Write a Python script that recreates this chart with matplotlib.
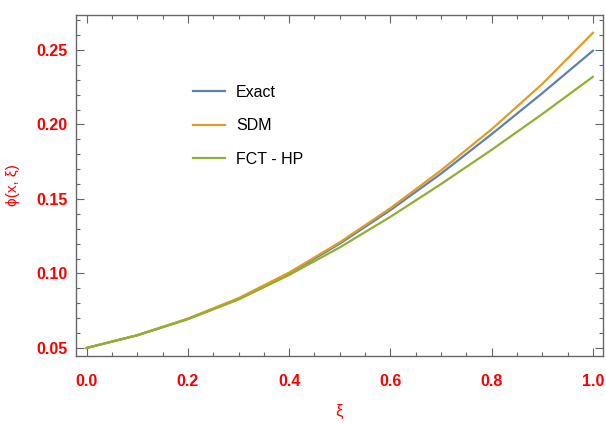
import matplotlib
matplotlib.use('Agg')
import matplotlib.pyplot as plt
from matplotlib.ticker import MultipleLocator

# values, xi step 0.1
xi = [0.0, 0.1, 0.2, 0.3, 0.4, 0.5, 0.6, 0.7, 0.8, 0.9, 1.0]
exact = [0.0500, 0.0585, 0.0695, 0.0830, 0.1000, 0.1200, 0.1425, 0.1670, 0.1935, 0.2210, 0.2495]
sdm = [0.0500, 0.0586, 0.0697, 0.0834, 0.1006, 0.1209, 0.1438, 0.1692, 0.1968, 0.2272, 0.2615]
fct_hp = [0.0500, 0.0585, 0.0693, 0.0825, 0.0990, 0.1175, 0.1380, 0.1600, 0.1830, 0.2070, 0.2320]
series_names = ['Exact', 'SDM', 'FCT - HP']

plt.rcParams['font.family'] = ['Liberation Sans', 'DejaVu Sans']

fig = plt.figure(figsize=(6.06, 4.24), dpi=100)
ax = fig.add_axes([76 / 606, 68 / 424, 527 / 606, 341 / 424])

colors = ['#5E81B5', '#E19C24', '#8FB032']
for ys, name, c in zip([exact, sdm, fct_hp], series_names, colors):
    ax.plot(xi, ys, color=c, lw=1.6, label=name)

ax.set_xlim(-0.021, 1.020)
ax.set_ylim(0.0446, 0.2735)

ax.xaxis.set_major_locator(MultipleLocator(0.2))
ax.xaxis.set_minor_locator(MultipleLocator(0.05))
ax.yaxis.set_major_locator(MultipleLocator(0.05))
ax.yaxis.set_minor_locator(MultipleLocator(0.01))
ax.xaxis.set_major_formatter(plt.FormatStrFormatter('%.1f'))
ax.yaxis.set_major_formatter(plt.FormatStrFormatter('%.2f'))

frame = '#666666'
for s in ax.spines.values():
    s.set_color(frame)
    s.set_linewidth(1.0)
ax.tick_params(which='both', direction='in', top=True, right=True, color=frame, width=0.8)
ax.tick_params(which='major', length=5.5)
ax.tick_params(which='minor', length=3)
ax.tick_params(axis='x', which='major', pad=13, labelsize=11.5, labelcolor='red')
ax.tick_params(axis='y', which='major', pad=6, labelsize=11.5, labelcolor='red')
for lab in ax.get_xticklabels() + ax.get_yticklabels():
    lab.set_fontweight('bold')

ax.set_xlabel('ξ', color='red', fontsize=12, labelpad=11)
ax.set_ylabel('ϕ(x, ξ)', color='red', fontsize=11, labelpad=12)

ax.legend(loc='upper left', bbox_to_anchor=(0.222, 0.795), frameon=False,
          fontsize=11.5, handlelength=2.0, handletextpad=0.7, labelspacing=1.15,
          borderpad=0, borderaxespad=0)

fig.savefig('out.png', dpi=100)
